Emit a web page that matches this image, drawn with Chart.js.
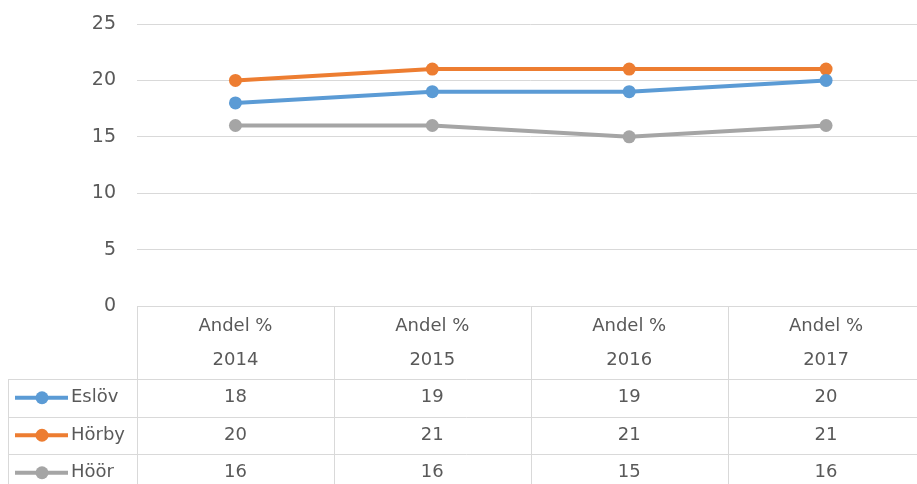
<!DOCTYPE html>
<html>
<head>
<meta charset="utf-8">
<script src="https://cdn.jsdelivr.net/npm/chart.js@4/dist/chart.umd.min.js"></script>
<style>
  html, body { margin: 0; padding: 0; background: #fff; overflow: hidden; }
  canvas { display: block; }
</style>
</head>
<body>
<canvas id="myChart" width="931" height="484" style="width:931px;height:484px"></canvas>
<script>
var categories = [["Andel %", "2014"], ["Andel %", "2015"], ["Andel %", "2016"], ["Andel %", "2017"]];
var seriesNames = ["Eslöv", "Hörby", "Höör"];
var eslov = [18, 19, 19, 20];
var horby = [20, 21, 21, 21];
var hoor = [16, 16, 15, 16];
var yTicks = [0, 5, 10, 15, 20, 25];
var colors = ["#5B9BD5", "#ED7D31", "#A5A5A5"];

var FONT = "'DejaVu Sans', 'Open Sans', sans-serif";
var gridColor = "#D9D9D9";
var textColor = "#595959";

// draws the data table under the plot (Excel style)
var dataTable = {
  id: "dataTable",
  afterDraw: function(chart) {
    var ctx = chart.ctx;
    var xs = chart.scales.x;
    var area = chart.chartArea;
    var half = (xs.getPixelForValue(1) - xs.getPixelForValue(0)) / 2;
    var top = area.bottom;
    var headH = 73;
    var rowH = 37.5;
    var legLeft = 8;
    var bottom = chart.height + 10;

    ctx.save();
    ctx.strokeStyle = gridColor;
    ctx.lineWidth = 1;
    ctx.beginPath();
    // verticals
    for (var i = 0; i < categories.length; i++) {
      var x = Math.round(xs.getPixelForValue(i) - half) + 0.5;
      ctx.moveTo(x, top);
      ctx.lineTo(x, bottom);
    }
    var xr = Math.round(xs.getPixelForValue(categories.length - 1) + half) - 0.5;
    ctx.moveTo(xr, top);
    ctx.lineTo(xr, bottom);
    ctx.moveTo(legLeft + 0.5, top + headH);
    ctx.lineTo(legLeft + 0.5, bottom);
    // horizontals
    for (var r = 0; r <= seriesNames.length; r++) {
      var y = Math.round(top + headH + r * rowH) + 0.5;
      ctx.moveTo(legLeft, y);
      ctx.lineTo(xr, y);
    }
    ctx.stroke();

    ctx.fillStyle = textColor;
    ctx.font = "18px " + FONT;
    ctx.textAlign = "center";
    ctx.textBaseline = "middle";
    for (var i = 0; i < categories.length; i++) {
      var cx = xs.getPixelForValue(i);
      ctx.fillText(categories[i][0], cx, top + 20);
      ctx.fillText(categories[i][1], cx, top + 54);
    }

    var allData = [eslov, horby, hoor];
    for (var r = 0; r < seriesNames.length; r++) {
      var cy = top + headH + r * rowH + rowH / 2;
      for (var i = 0; i < categories.length; i++) {
        ctx.fillStyle = textColor;
        ctx.textAlign = "center";
        ctx.fillText(String(allData[r][i]), xs.getPixelForValue(i), cy);
      }
      // legend key
      ctx.strokeStyle = colors[r];
      ctx.lineWidth = 4;
      ctx.beginPath();
      ctx.moveTo(15, cy);
      ctx.lineTo(68, cy);
      ctx.stroke();
      ctx.fillStyle = colors[r];
      ctx.beginPath();
      ctx.arc(42, cy, 6.5, 0, Math.PI * 2);
      ctx.fill();
      ctx.fillStyle = textColor;
      ctx.textAlign = "left";
      ctx.fillText(seriesNames[r], 71, cy);
    }
    ctx.restore();
  }
};

var allSeries = [eslov, horby, hoor];
var datasets = seriesNames.map(function(name, i) {
  return {
    label: name,
    data: allSeries[i],
    borderColor: colors[i],
    backgroundColor: colors[i],
    borderWidth: 4,
    pointRadius: 6.5,
    pointHoverRadius: 6.5,
    pointBorderWidth: 0,
    tension: 0
  };
});

var chart = new Chart(document.getElementById("myChart"), {
  type: "line",
  data: {
    labels: categories.map(function(c) { return c.join(" "); }),
    datasets: datasets
  },
  options: {
    responsive: false,
    animation: false,
    layout: { padding: { top: 24, bottom: 178, left: 0, right: 0 } },
    plugins: {
      legend: { display: false },
      tooltip: { enabled: false }
    },
    scales: {
      x: {
        display: false,
        offset: true
      },
      y: {
        min: 0,
        max: 25,
        afterBuildTicks: function(scale) {
          scale.ticks = yTicks.map(function(v) { return { value: v }; });
        },
        afterFit: function(scale) {
          scale.width = 137;
          scale.paddingTop = 0;
          scale.paddingBottom = 0;
        },
        border: { display: false },
        grid: { color: gridColor, drawTicks: false, lineWidth: 1 },
        ticks: {
          color: textColor,
          padding: 21,
          font: { family: FONT, size: 19 }
        }
      }
    }
  },
  plugins: [dataTable]
});
</script>
</body>
</html>
